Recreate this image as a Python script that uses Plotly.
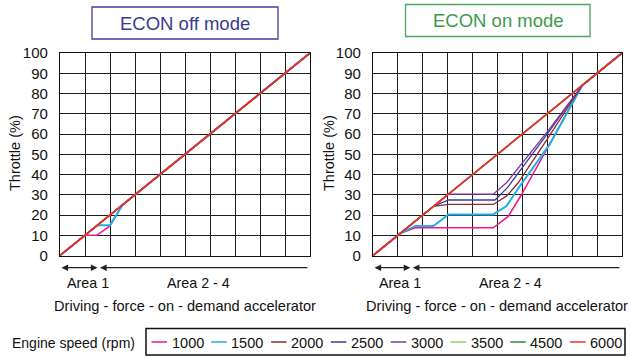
import plotly.graph_objects as go

# Engine speeds (rpm) and their line colours
speeds = ["1000", "1500", "2000", "2500", "3000", "3500", "4500", "6000"]
colors = ["#f0168f", "#22aee8", "#8e2b2b", "#3c3c9e", "#7a3a9a", "#8fd35a", "#2f8a3f", "#e8302a"]
widths = [1.5, 2.0, 1.3, 1.3, 1.3, 1.3, 1.3, 1.8]

# ECON off mode: accelerator position (%) -> throttle (%)
off_x = {
    "1000": [0, 10, 14.7, 20, 25, 100],
    "1500": [0, 15, 20, 25, 100],
    "2000": [0, 100],
    "2500": [0, 100],
    "3000": [0, 100],
    "3500": [0, 100],
    "4500": [0, 100],
    "6000": [0, 100],
}
off_y = {
    "1000": [0, 10, 10, 14.6, 25, 100],
    "1500": [0, 15, 15, 25, 100],
    "2000": [0, 100],
    "2500": [0, 100],
    "3000": [0, 100],
    "3500": [0, 100],
    "4500": [0, 100],
    "6000": [0, 100],
}

# ECON on mode
on_x = {
    "1000": [0, 11, 17, 48.3, 54.3, 59.6, 69.6, 84, 100],
    "1500": [0, 11, 17, 24.3, 30.3, 48.3, 53.6, 59, 71, 84, 100],
    "2000": [0, 24.3, 30.3, 48.3, 53.6, 58.3, 70.5, 84, 100],
    "2500": [0, 24.3, 30.3, 49, 54, 70.6, 84, 100],
    "3000": [0, 30.3, 48.3, 53.6, 70.9, 84, 100],
    "3500": [0, 100],
    "4500": [0, 100],
    "6000": [0, 100],
}
on_y = {
    "1000": [0, 11, 13.7, 13.7, 19.3, 30, 52, 84, 100],
    "1500": [0, 11, 14.6, 14.6, 20.3, 20.3, 24.4, 34.3, 55, 84, 100],
    "2000": [0, 24.3, 25.2, 25.2, 29.3, 35.9, 58.5, 84, 100],
    "2500": [0, 24.3, 27.4, 27.4, 33.5, 61, 84, 100],
    "3000": [0, 30.3, 30.3, 35.9, 62.5, 84, 100],
    "3500": [0, 100],
    "4500": [0, 100],
    "6000": [0, 100],
}

y_ticks = list(range(0, 101, 10))

W, H = 630, 358
FONT = "Arial, Liberation Sans, sans-serif"


def px(x):
    return x / W


def py(y):
    return 1 - y / H


fig = go.Figure()

for s, c, w in zip(speeds, colors, widths):
    fig.add_trace(go.Scatter(x=off_x[s], y=off_y[s], mode="lines", name=s,
                             line=dict(color=c, width=w), xaxis="x", yaxis="y",
                             showlegend=False, hoverinfo="skip"))
    fig.add_trace(go.Scatter(x=on_x[s], y=on_y[s], mode="lines", name=s,
                             line=dict(color=c, width=w), xaxis="x2", yaxis="y2",
                             showlegend=False, hoverinfo="skip"))

grid = "#1e1e1e"
xcommon = dict(range=[0, 100], dtick=10, tick0=0, showgrid=True, gridcolor=grid, gridwidth=1,
               showticklabels=False, ticks="", showline=True, linecolor="#111", linewidth=1.2,
               mirror=True, zeroline=False, fixedrange=True, automargin=False)
ycommon = dict(range=[0, 100], tickvals=y_ticks, showgrid=True, gridcolor=grid, gridwidth=1,
               ticks="outside", ticklen=8, tickcolor="rgba(0,0,0,0)",
               tickfont=dict(family=FONT, size=15, color="#111"),
               showline=True, linecolor="#111", linewidth=1.2, mirror=True,
               zeroline=False, fixedrange=True, automargin=False,
               domain=[py(255.5), py(53)])

fig.update_layout(
    width=W, height=H, autosize=False,
    margin=dict(l=0, r=0, t=0, b=0, autoexpand=False),
    paper_bgcolor="white", plot_bgcolor="white",
    xaxis=dict(domain=[px(60), px(310)], anchor="y", **xcommon),
    yaxis=dict(anchor="x", **ycommon),
    xaxis2=dict(domain=[px(373), px(622)], anchor="y2", **xcommon),
    yaxis2=dict(anchor="x2", **ycommon),
    showlegend=False,
)

shapes = []
ann = []

# Mode title boxes
shapes.append(dict(type="rect", xref="paper", yref="paper", x0=px(92), x1=px(278),
                   y0=py(39), y1=py(7), line=dict(color="#3f3f9c", width=1.3)))
ann.append(dict(xref="paper", yref="paper", x=px(185), y=py(23), text="ECON off mode",
                showarrow=False, font=dict(family=FONT, size=18.5, color="#3a3a8e"),
                xanchor="center", yanchor="middle"))
shapes.append(dict(type="rect", xref="paper", yref="paper", x0=px(405.5), x1=px(590),
                   y0=py(36.5), y1=py(4.5), line=dict(color="#4aa55a", width=1.3)))
ann.append(dict(xref="paper", yref="paper", x=px(498), y=py(21), text="ECON on mode",
                showarrow=False, font=dict(family=FONT, size=18.5, color="#3d9a4c"),
                xanchor="center", yanchor="middle"))

# Axis titles, area arrows and labels for both panels
for xr, ytx in (("x", 15), ("x2", 329)):
    ann.append(dict(xref="paper", yref="paper", x=px(ytx), y=py(153), text="Throttle (%)",
                    textangle=-90, showarrow=False,
                    font=dict(family=FONT, size=14.5, color="#111"),
                    xanchor="center", yanchor="middle"))
    # Area 1 (double-headed)
    ann.append(dict(xref=xr, yref="paper", x=15, y=py(267.7), axref=xr, ax=0, ayref="pixel", ay=0,
                    text="", showarrow=True, arrowhead=2, startarrowhead=2, arrowside="end+start",
                    arrowsize=1.1, arrowwidth=1.2, arrowcolor="#222"))
    # Area 2 - 4 (head at left end only)
    ann.append(dict(xref=xr, yref="paper", x=16, y=py(267.7), axref=xr, ax=99.5, ayref="pixel", ay=0,
                    text="", showarrow=True, arrowhead=2, arrowsize=1.1, arrowwidth=1.2,
                    arrowcolor="#222"))
    ann.append(dict(xref=xr, yref="paper", x=11, y=py(283), text="Area 1", showarrow=False,
                    font=dict(family=FONT, size=14.3, color="#111"), xanchor="center", yanchor="middle"))
    ann.append(dict(xref=xr, yref="paper", x=55.2, y=py(283), text="Area 2 - 4", showarrow=False,
                    font=dict(family=FONT, size=14.3, color="#111"), xanchor="center", yanchor="middle"))
    ann.append(dict(xref=xr, yref="paper", x=49.8, y=py(306), text="Driving - force - on - demand accelerator",
                    showarrow=False, font=dict(family=FONT, size=14.6, color="#111"),
                    xanchor="center", yanchor="middle"))

# Engine speed key
ann.append(dict(xref="paper", yref="paper", x=px(10), y=py(342.5), text="Engine speed (rpm)",
                showarrow=False, font=dict(family=FONT, size=14, color="#111"),
                xanchor="left", yanchor="middle"))
shapes.append(dict(type="rect", xref="paper", yref="paper", x0=px(146), x1=px(625),
                   y0=py(355), y1=py(328.5), line=dict(color="#111", width=1.5)))
for i, (s, c) in enumerate(zip(speeds, colors)):
    x0 = 151.5 + 59.8 * i
    shapes.append(dict(type="line", xref="paper", yref="paper", x0=px(x0), x1=px(x0 + 15.5),
                       y0=py(342), y1=py(342), line=dict(color=c, width=1.5)))
    ann.append(dict(xref="paper", yref="paper", x=px(x0 + 18), y=py(342.5), text=s,
                    showarrow=False, font=dict(family=FONT, size=14.5, color="#111"),
                    xanchor="left", yanchor="middle"))

fig.update_layout(shapes=shapes, annotations=ann)
fig.write_html("out.html")
